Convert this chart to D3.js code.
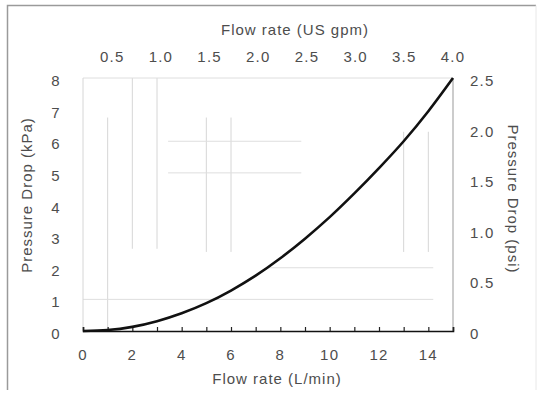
<!DOCTYPE html>
<html>
<head>
<meta charset="utf-8">
<script src="https://cdn.jsdelivr.net/npm/d3@7"></script>
<style>
  body { margin: 0; background: #fff; }
  text { font-family: "Liberation Sans", Arial, sans-serif; fill: #4d4d4d; }
</style>
</head>
<body>
<svg id="chart" width="538" height="393"></svg>
<script>
// data
const flowLpm = [0, 1, 2, 3, 4, 5, 6, 7, 8, 9, 10, 11, 12, 13, 14, 15];
const dropKpa = [0, 0.03, 0.13, 0.31, 0.56, 0.88, 1.28, 1.75, 2.3, 2.92, 3.6, 4.35, 5.15, 6.0, 6.95, 8.0];

const bottomTicks = [0, 2, 4, 6, 8, 10, 12, 14];
const topTicks = [0.5, 1.0, 1.5, 2.0, 2.5, 3.0, 3.5, 4.0];
const leftTicks = [0, 1, 2, 3, 4, 5, 6, 7, 8];
const rightTicks = [0, 0.5, 1.0, 1.5, 2.0, 2.5];

// remnants of the gridlines that survived the scan: [value, from, to]
const vGrid = [[1, 0, 6.75], [2, 2.6, 8], [3, 2.6, 8], [5, 2.5, 6.75], [6, 2.5, 6.75], [13, 2.5, 6.3], [14, 2.5, 6.3]];
const hGrid = [[1, 0, 14.2], [2, 7.5, 14.2], [5, 3.45, 8.85], [6, 3.45, 8.85], [8, 0, 15]];

const svg = d3.select("#chart");
const margin = { top: 78, right: 85, bottom: 62, left: 83 };
const width = 538 - margin.left - margin.right;
const height = 393 - margin.top - margin.bottom;

// outer frame of the scan
svg.append("path")
    .attr("d", "M7.5,390 L7.5,5.5 L536,5.5")
    .attr("fill", "none")
    .attr("stroke", "#9a9a9a")
    .attr("stroke-width", 1.5);
svg.append("path")
    .attr("d", "M536,5.5 L536,390")
    .attr("fill", "none")
    .attr("stroke", "#e8e8e8");

const g = svg.append("g")
    .attr("transform", `translate(${margin.left}, ${margin.top})`);

// Set the scales
const x = d3.scaleLinear().domain([0, 15]).range([0, width]);
const xTop = d3.scaleLinear().domain([0.2, 4.0]).range([0, width]);
const y = d3.scaleLinear().domain([0, 8]).range([height, 0]);
const yRight = d3.scaleLinear().domain([0, 2.5]).range([height, 0]);

// faint gridlines
g.selectAll(".vgrid")
    .data(vGrid)
    .enter().append("line")
    .attr("x1", d => x(d[0])).attr("x2", d => x(d[0]))
    .attr("y1", d => y(d[1])).attr("y2", d => y(d[2]))
    .attr("stroke", "#d6d6d6");

g.selectAll(".hgrid")
    .data(hGrid)
    .enter().append("line")
    .attr("x1", d => x(d[1])).attr("x2", d => x(d[2]))
    .attr("y1", d => y(d[0])).attr("y2", d => y(d[0]))
    .attr("stroke", "#dedede");

// left and right frame lines
g.append("line")
    .attr("x1", x(0)).attr("x2", x(0))
    .attr("y1", y(0)).attr("y2", y(8))
    .attr("stroke", "#d6d6d6");
g.append("line")
    .attr("x1", x(15)).attr("x2", x(15))
    .attr("y1", y(0)).attr("y2", y(8))
    .attr("stroke", "#999");

// Add the x-axis (ticks pointing inward)
const xAxis = g.append("g")
    .attr("transform", `translate(0, ${height})`)
    .call(d3.axisBottom(x).tickValues(d3.range(0, 16)).tickSizeInner(-4).tickSizeOuter(-4).tickFormat(""));
xAxis.select(".domain").attr("stroke", "#111").attr("stroke-width", 1.6);
xAxis.selectAll(".tick line").attr("stroke", "#222").attr("stroke-width", 1.2);

const tickStyle = sel => sel
    .style("font-size", "15px")
    .style("letter-spacing", "1.2px");

g.selectAll(".xlabel")
    .data(bottomTicks)
    .enter().append("text")
    .attr("x", d => x(d))
    .attr("y", height + 29)
    .attr("text-anchor", "middle")
    .call(tickStyle)
    .text(d => d);

// top axis labels only
g.selectAll(".toplabel")
    .data(topTicks)
    .enter().append("text")
    .attr("x", d => xTop(d))
    .attr("y", -16)
    .attr("text-anchor", "middle")
    .call(tickStyle)
    .text(d => d3.format(".1f")(d));

// left axis labels
g.selectAll(".ylabel")
    .data(leftTicks)
    .enter().append("text")
    .attr("x", -27)
    .attr("y", d => y(d) + 8)
    .attr("text-anchor", "middle")
    .call(tickStyle)
    .text(d => d);

// right axis labels
g.selectAll(".rlabel")
    .data(rightTicks)
    .enter().append("text")
    .attr("x", width + 17)
    .attr("y", d => yRight(d) + 8)
    .attr("text-anchor", "start")
    .call(tickStyle)
    .text(d => d === 0 ? "0" : d3.format(".1f")(d));

// the curve
const line = d3.line()
    .x((d, i) => x(flowLpm[i]))
    .y(d => y(d))
    .curve(d3.curveMonotoneX);

g.append("path")
    .datum(dropKpa)
    .attr("d", line)
    .attr("fill", "none")
    .attr("stroke", "#111")
    .attr("stroke-width", 2.6);

// axis titles
const titleStyle = sel => sel
    .attr("text-anchor", "middle")
    .style("font-size", "15px")
    .style("letter-spacing", "1px");

svg.append("text")
    .attr("x", 295).attr("y", 35)
    .call(titleStyle)
    .text("Flow rate (US gpm)");

svg.append("text")
    .attr("x", 277).attr("y", 384)
    .call(titleStyle)
    .text("Flow rate (L/min)");

svg.append("text")
    .attr("transform", "translate(32, 195) rotate(-90)")
    .call(titleStyle)
    .text("Pressure Drop (kPa)");

svg.append("text")
    .attr("transform", "translate(508, 199) rotate(90)")
    .call(titleStyle)
    .text("Pressure Drop (psi)");
</script>
</body>
</html>
